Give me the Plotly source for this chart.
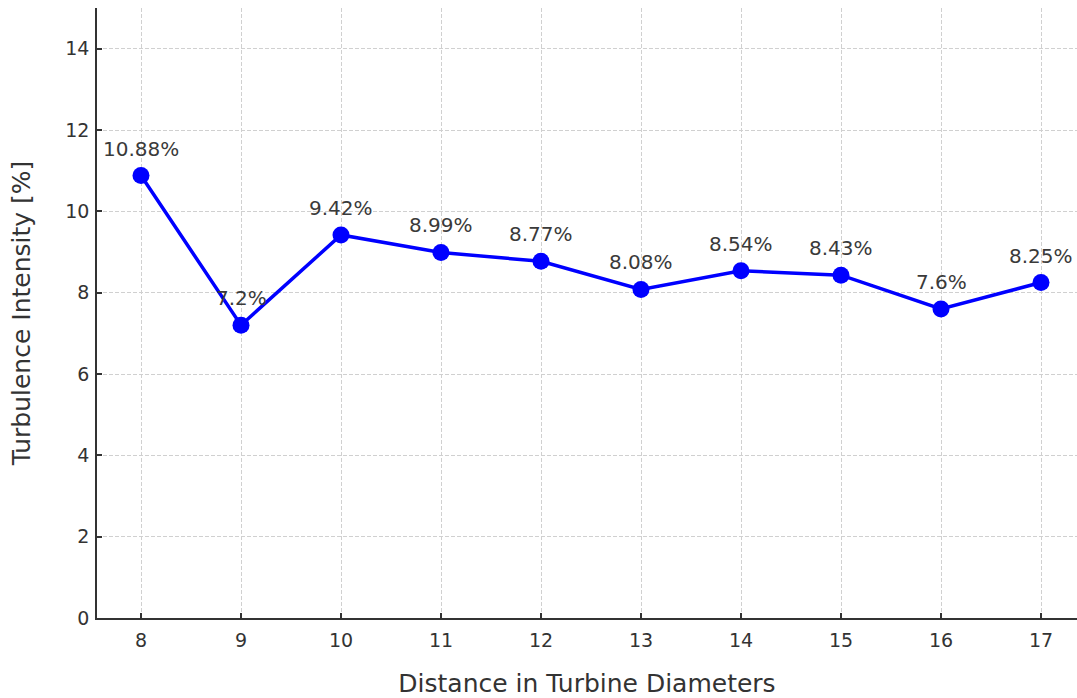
import plotly.graph_objects as go

distances = [8, 9, 10, 11, 12, 13, 14, 15, 16, 17]
intensity = [10.88, 7.2, 9.42, 8.99, 8.77, 8.08, 8.54, 8.43, 7.6, 8.25]
labels = ["10.88%", "7.2%", "9.42%", "8.99%", "8.77%", "8.08%", "8.54%", "8.43%", "7.6%", "8.25%"]
y_ticks = [0, 2, 4, 6, 8, 10, 12, 14]

FONT = "DejaVu Sans"

fig = go.Figure()
fig.add_trace(go.Scatter(
    x=distances, y=intensity, mode="lines+markers",
    line=dict(color="#0000ff", width=3.5),
    marker=dict(color="#0000ff", size=17),
    showlegend=False, cliponaxis=False,
))
for xv, yv, t in zip(distances, intensity, labels):
    fig.add_annotation(x=xv, y=yv, text=t, showarrow=False, yshift=27,
                       font=dict(family=FONT, size=20, color="#3a3a3a"))

axis_common = dict(
    showgrid=True, gridcolor="#d0d0d0", griddash="4px,2px", gridwidth=1,
    showline=True, linecolor="#333333", linewidth=1.5,
    ticks="inside", ticklen=5, tickcolor="#333333", tickwidth=1.5,
    tickfont=dict(family=FONT, size=19, color="#333333"),
    zeroline=False, mirror=False,
)

fig.update_xaxes(range=[7.56, 17.36], tickvals=distances,
                 title=dict(text="Distance in Turbine Diameters", standoff=28,
                            font=dict(family=FONT, size=25, color="#333333")),
                 ticklabelstandoff=4, **axis_common)
fig.update_yaxes(range=[0, 15], tickvals=y_ticks,
                 title=dict(text="Turbulence Intensity [%]", standoff=28,
                            font=dict(family=FONT, size=25, color="#333333")),
                 ticklabelstandoff=2, **axis_common)

fig.update_layout(
    width=1077, height=698,
    margin=dict(l=97, r=0, t=8, b=80),
    plot_bgcolor="white", paper_bgcolor="white",
    font=dict(family=FONT),
)

fig.write_html("out.html",
               config={"displayModeBar": False},
               post_script="document.body.style.margin='0';document.body.style.overflow='hidden';")
